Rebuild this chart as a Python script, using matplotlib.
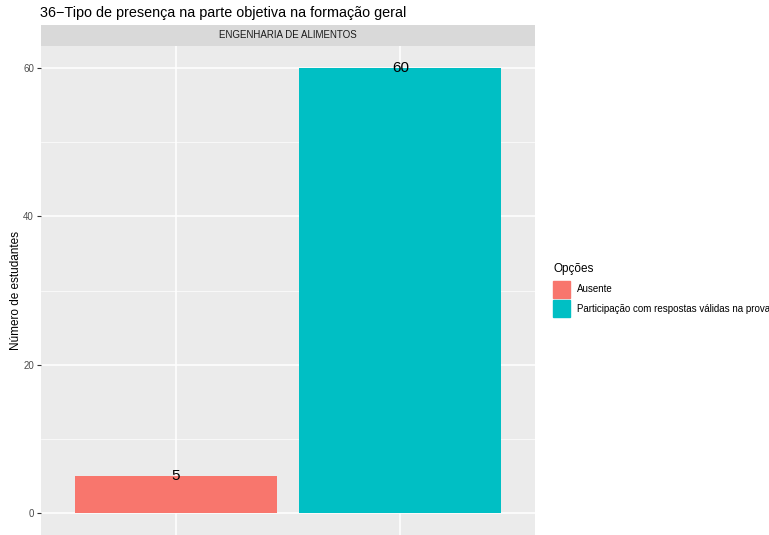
import matplotlib
matplotlib.use("Agg")
import matplotlib.pyplot as plt
from matplotlib.patches import Rectangle

# data
categories = ["Ausente", "Participação com respostas válidas na prova"]
counts = [5, 60]
colors = ["#F8766D", "#00BFC4"]
facet = "ENGENHARIA DE ALIMENTOS"
title = "36\u2212Tipo de presença na parte objetiva na formação geral"

W, H = 769, 535
fig = plt.figure(figsize=(W / 100, H / 100), dpi=100)
plt.rcParams["font.family"] = ["Liberation Sans", "DejaVu Sans"]

def fx(px):
    return px / W

def fy(py):
    return 1 - py / H

# panel
ax = fig.add_axes([fx(41), 0, fx(535) - fx(41), fy(46)])
ax.set_facecolor("#EBEBEB")
xs = list(range(1, len(categories) + 1))
ax.bar(xs, counts, width=0.9, color=colors, zorder=3)
for x, v in zip(xs, counts):
    ax.text(x, v, str(v), ha="center", va="center", fontsize=11, color="black", zorder=4)

ax.set_xlim(0.4, 2.6)
ax.set_ylim(-3, 63)
ax.set_yticks([0, 20, 40, 60])
ax.set_yticks([10, 30, 50], minor=True)
ax.set_xticks(xs)
ax.set_xticklabels([])
ax.tick_params(axis="x", length=0)
ax.tick_params(axis="y", which="major", length=3, color="#333333", labelsize=7, labelcolor="#4D4D4D", pad=2)
ax.tick_params(axis="y", which="minor", length=0)
ax.grid(True, which="major", color="white", linewidth=1.1, zorder=0)
ax.grid(True, which="minor", axis="y", color="white", linewidth=0.5, zorder=0)
ax.set_axisbelow(True)
for s in ax.spines.values():
    s.set_visible(False)
ax.set_ylabel("Número de estudantes", fontsize=8.5, labelpad=1)

# facet strip
strip = fig.add_axes([fx(41), fy(46), fx(535) - fx(41), fy(25) - fy(46)])
strip.set_facecolor("#D9D9D9")
strip.set_xticks([])
strip.set_yticks([])
for s in strip.spines.values():
    s.set_visible(False)
strip.text(0.5, 0.5, facet, ha="center", va="center", fontsize=7, color="#1A1A1A", transform=strip.transAxes)

# title
fig.text(fx(40), fy(13), title, ha="left", va="center", fontsize=10.4, color="black")

# legend
fig.text(fx(553), fy(269), "Opções", ha="left", va="center", fontsize=8.5)
for i, (lab, c) in enumerate(zip(categories, colors)):
    top = 281 + i * 19
    fig.patches.append(Rectangle((fx(553), fy(top + 17)), fx(17), fy(top) - fy(top + 17),
                                 transform=fig.transFigure, color=c))
    fig.text(fx(577), fy(top + 8.5), lab, ha="left", va="center", fontsize=7)

fig.savefig("out.png", dpi=100)
